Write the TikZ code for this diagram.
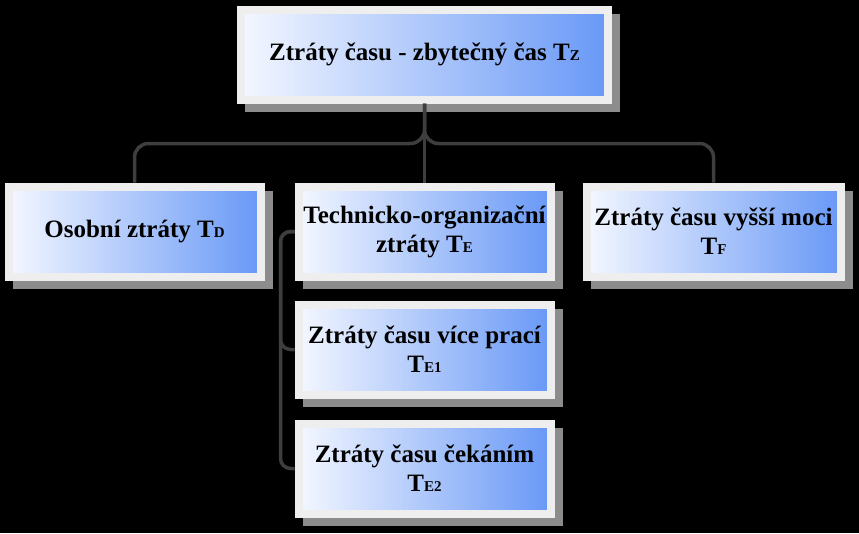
\documentclass[tikz,border=0pt]{standalone}
\usepackage{fontspec}
\setmainfont{Liberation Serif}
\usetikzlibrary{positioning,shadows}

\definecolor{framegray}{RGB}{238,238,238}
\definecolor{boxleft}{RGB}{244,247,255}
\definecolor{boxright}{RGB}{104,152,246}
\definecolor{linkgray}{RGB}{62,62,62}
\definecolor{shadowgray}{RGB}{140,140,140}
\newcommand{\tsub}[1]{{\fontsize{15}{15}\selectfont #1}}

\begin{document}
\begin{tikzpicture}[x=1pt,y=-1pt,node distance=30pt]
  \tikzstyle{box}=[draw=framegray,line width=8pt,left color=boxleft,right color=boxright,
    minimum width=252pt,minimum height=90pt,align=center,
    font=\fontsize{25}{29}\selectfont\bfseries,
    drop shadow={shadow xshift=8pt,shadow yshift=-8pt,fill=shadowgray,draw=shadowgray,line width=8pt,opacity=1}]
  \tikzstyle{link}=[draw=linkgray,line width=3.5pt,rounded corners=14pt]

  \fill[black] (0,0) rectangle (859,533);
  \useasboundingbox (0,0) rectangle (859,533);

  \node[box,minimum width=367pt] (total) at (424.5,54.5) {Ztráty času - zbytečný čas T\tsub{Z}};
  \node[box] (technical) [below=79pt of total] {Technicko-organizační\\ztráty T\tsub{E}};
  \node[box] (personal)  [left=30pt of technical] {Osobní ztráty T\tsub{D}};
  \node[box,minimum width=254pt] (force) [right=28pt of technical] {Ztráty času vyšší moci\\T\tsub{F}};
  \node[box] (multiwork) [below=20pt of technical] {Ztráty času více prací\\T\tsub{E1}};
  \node[box] (waiting)   [below=21pt of multiwork] {Ztráty času čekáním\\T\tsub{E2}};

  \draw[link] (total.south) -- ++(0,40) -| (personal.north);
  \draw[link] (total.south) -- ++(0,40) -| (force.north);
  \draw[link] (total.south) -- (technical.north);
  \draw[link,rounded corners=10pt] (technical.west) -- ++(-14,0) |- (multiwork.west);
  \draw[link,rounded corners=10pt] (technical.west) -- ++(-14,0) |- (waiting.west);
\end{tikzpicture}
\end{document}
